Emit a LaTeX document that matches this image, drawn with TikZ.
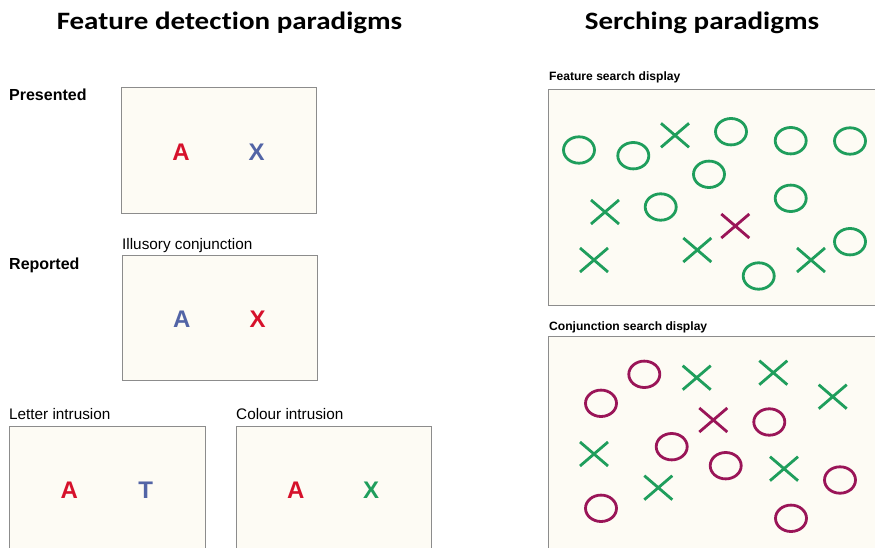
\documentclass[tikz,border=0pt]{standalone}
\usepackage{fontspec}
\setmainfont{Liberation Sans}
\newfontfamily\headfont{Carlito}[Ligatures={NoCommon,NoRare,NoDiscretionary,NoHistoric}]
\definecolor{panelfill}{HTML}{FDFBF4}
\definecolor{panelline}{HTML}{8C8C8C}
\definecolor{lred}{HTML}{D6112B}
\definecolor{lblue}{HTML}{5264A6}
\definecolor{lgreen}{HTML}{1F9E5C}
\definecolor{lpurple}{HTML}{9A1558}
\tikzset{
  panel/.style={draw=panelline, fill=panelfill, line width=0.8pt},
  heading/.style={font=\headfont\bfseries\fontsize{25}{29}\selectfont, anchor=base, xscale=1.16},
  rowlabel/.style={font=\bfseries\fontsize{16}{19}\selectfont, anchor=base west, inner sep=0pt},
  caption/.style={font=\fontsize{15.3}{18}\selectfont, anchor=base west, inner sep=0pt},
  smallhead/.style={font=\bfseries\fontsize{12.1}{14}\selectfont, anchor=base west, inner sep=0pt},
  glyph/.style={font=\bfseries\fontsize{24}{28}\selectfont, anchor=base, inner sep=0pt},
  ring/.pic={\draw[line width=2.8pt] (0,0) ellipse [x radius=15.5, y radius=13.2];},
  cross/.pic={\draw[line width=2.8pt] (-14,-12) -- (14,12) (-14,12) -- (14,-12);},
}
\begin{document}
\begin{tikzpicture}[x=1pt, y=-1pt]
\useasboundingbox (0,0) rectangle (875,548);
\clip (0,0) rectangle (875,548);

% headings (the kern keeps c and t apart)
\node[heading] (h1) at (229.5,30) {Feature detec\kern0.4pt tion paradigms};
\node[heading] (h2) at (702,30) {Serching paradigms};

% feature detection panels
\draw[panel] (121,87) rectangle (316,213);
\draw[panel] (122,255) rectangle (317,380);
\draw[panel] (9,426) rectangle (205,560);
\draw[panel] (236,426) rectangle (431,560);

\node[rowlabel] (presented) at (9,101) {Presented};
\node[rowlabel] (reported) at (9,269) {Reported};
\node[caption] (illusory) at (122,249) {Illusory conjunction};
\node[caption] (letter) at (9,419) {Letter intrusion};
\node[caption] (colour) at (236,419) {Colour intrusion};

\node[glyph, lred]  (pA) at (181,160.7) {A};
\node[glyph, lblue] (pX) at (256.7,160.7) {X};
\node[glyph, lblue] (rA) at (181.7,327.3) {A};
\node[glyph, lred]  (rX) at (257.7,327.3) {X};
\node[glyph, lred]  (lA) at (69.3,498.3) {A};
\node[glyph, lblue] (lT) at (145.7,498.3) {T};
\node[glyph, lred]  (cA) at (295.7,498.3) {A};
\node[glyph, lgreen] (cX) at (371,498.3) {X};

% searching panels
\node[smallhead] (fsd) at (549,80.7) {Feature search display};
\node[smallhead] (csd) at (549,330) {Conjunction search display};
\draw[panel] (548,89) rectangle (885,305);
\draw[panel] (548,336) rectangle (885,560);

% feature search: green rings and crosses, one purple cross
\foreach \p in {(579,150),(633.3,155.7),(731,131.7),(790.7,140.7),(850,141),
                (709,174.3),(660.7,207),(790.7,198.3),(850,241.7),(758.7,276)}
  \pic[lgreen] at \p {ring};
\foreach \p in {(675,135.3),(605,212),(594,260),(697.3,250),(811,260)}
  \pic[lgreen] at \p {cross};
\pic[lpurple] at (735.3,226) {cross};

% conjunction search: purple rings, green crosses, one purple cross
\foreach \p in {(644.3,374.3),(601,403.3),(671.7,446.7),(769.3,422),
                (725.7,465.7),(601,508.3),(840,480),(791,518.3)}
  \pic[lpurple] at \p {ring};
\foreach \p in {(696.7,377.7),(773.3,372.7),(832.7,396.7),(594,454),
                (658.3,487.7),(784,468.7)}
  \pic[lgreen] at \p {cross};
\pic[lpurple] at (713.3,420) {cross};
\end{tikzpicture}
\end{document}
